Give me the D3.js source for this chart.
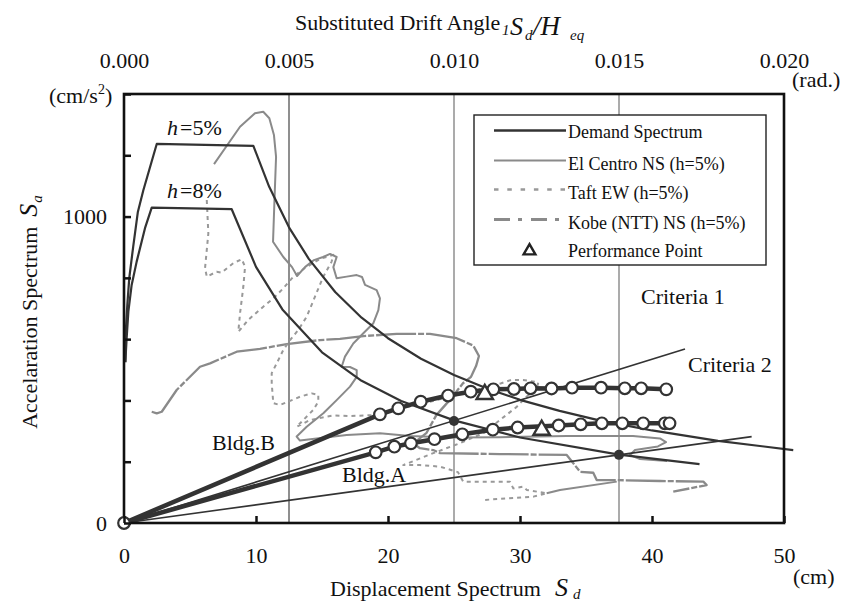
<!DOCTYPE html>
<html><head><meta charset="utf-8">
<script src="https://cdn.jsdelivr.net/npm/d3@7"></script>
<style>
body{margin:0;background:#fff}
svg text{font-family:'Liberation Serif','Times New Roman',serif;fill:#111}
</style></head><body>
<svg id="c" width="846" height="601"></svg>
<script>
// ---------- data (Sd in cm, Sa in cm/s^2) ----------
const xTicks = [0, 10, 20, 30, 40, 50];
const yTicks = [0, 200, 400, 600, 800, 1000, 1200, 1400];
const yTickLabels = [0, 1000];
const topTicks = [0.000, 0.005, 0.010, 0.015, 0.020];
const driftGrid = [0.005, 0.010, 0.015];

const demand5Sd = [0.1,0.15,0.25,0.4,0.7,1.05,1.46,2.48,9.8,11,12.5,14,16,18,20,22.5,25,27.5,30,33,36,40,45,50.7];
const demand5Sa = [525,635,711,800,903,1015,1085,1237,1231,1097,965,862,754,670,603,536,483,439,402,366,335,302,268,238];
const demand8Sd = [0.1,0.2,0.33,0.58,0.96,1.59,2.1,8.16,10,12,15,18,21,25,30,37.5,43.6];
const demand8Sa = [525,603,690,777,853,962,1029,1024,836,697,557,464,398,335,279,223,192];

const elCentroSd = [6.82,8.79,9.92,10.55,11.01,11.36,11.52,11.40,11.29,12.07,12.73,13.11,13.71,14.39,15.08,15.61,16.11,15.86,16.11,16.87,17.63,18.03,18.26,19.14,19.39,19.27,18.89,18.13,17.37,16.74,16.49,17.12,17.63,17.63,17.12,16.11,15.10,13.84,13.08,13.33,14.60,16.87,19.39,21.67,24.70,28.48,33.56,38.56,40.61,41.06,40.45,38.71,38.33,39.09,41.14,null,32.02,33.03,37.33];
const elCentroSa = [1171,1293,1337,1342,1321,1266,1195,1054,918,868,835,806,835,858,868,878,868,835,799,804,809,803,777,760,733,695,652,619,586,543,510,509,499,477,445,401,358,314,282,269,276,287,293,284,279,280,284,284,276,264,250,238,222,209,202,null,97,108,135];

const taftSd = [6.27,6.39,6.14,6.27,7.02,7.40,8.28,8.92,9.17,9.04,8.79,8.66,9.42,10.55,11.31,12.07,12.83,13.71,14.85,15.86,15.73,15.10,14.47,13.84,13.20,12.58,12.07,11.57,11.19,11.19,11.31,11.82,12.45,13.33,14.22,14.72,14.72,14.34,13.58,13.08,14.09,15.86,17.12,18.86,22.42,26.21,28.58,29.34,30.23,31.39,31.23,30.48,29.75,28.48,27.22,25.30,23.43,21.16,22.42,23.94,25.30,25.70,27.73,29.24,29.49,30.25,30.51,32.02,31.01,27.22];
const taftSa = [1054,945,832,804,820,817,848,861,836,771,684,624,663,706,733,766,804,832,862,875,853,804,739,673,630,597,565,521,489,456,391,385,396,412,423,418,396,369,336,314,336,351,349,352,388,428,456,467,467,459,434,412,379,336,293,258,228,189,189,184,166,135,135,135,113,119,108,97,86,75];

const kobeSd = [2.10,2.48,2.86,3.99,5.76,6.52,8.54,10.30,12.33,14.85,16.36,18.13,20.66,23.18,25.20,26.46,26.89,26.67,26.29,25.68,24.67,23.66,22.90,21.92,22.42,23.43,23.94,28.48,33.54,34.04,34.55,35.55,35.81,37.33,40.61,43.89,44.14,41.61];
const kobeSa = [363,358,363,434,510,521,559,568,584,597,601,610,617,617,603,579,545,512,477,456,401,352,293,260,244,238,228,225,222,195,167,164,140,140,137,135,124,102];

const criteria1Sd = [0, 47.55], criteria1Sa = [0, 282];
const criteria2Sd = [0, 42.5],  criteria2Sa = [0, 568];
const crossSd = [25, 37.5], crossSa = [333, 222.4];

const bldgBSd = [19.39,20.78,22.48,24.55,26.27,27.98,29.54,30.80,32.39,33.94,36.14,37.94,39.18,41.08];
const bldgBSa = [354.7,374.3,395.9,416,428.5,436.3,437.3,439.6,439,441.5,441.5,439.6,439.6,436.3];
const bldgASd = [19.07,20.48,21.74,23.52,25.63,27.94,29.82,32.93,34.60,36.20,37.75,39.33,40.97,41.33];
const bldgASa = [230.7,249,260,273.5,289.5,304.5,311.6,318.2,322.1,325.4,325.4,325.4,325.4,325.4];
const perfSd = [27.33, 31.64], perfSa = [420, 303.5];

const legendLabels = ["Demand Spectrum","El Centro NS (h=5%)","Taft EW (h=5%)","Kobe (NTT) NS (h=5%)","Performance Point"];

// ---------- drawing ----------
const svg = d3.select('#c');
const x = d3.scaleLinear().domain([0, 50]).range([124, 784]);
const y = d3.scaleLinear().domain([0, 1400]).range([523, 94]);
const xTop = d3.scaleLinear().domain([0, 0.02]).range([124, 784]);
const zip = (a, b) => a.map((v, i) => [v, b[i]]);
const line = d3.line().defined(d => d[0] != null && d[1] != null).x(d => x(d[0])).y(d => y(d[1]));

const DARK = '#333', GRAY = '#8a8a8a';

// drift-angle gridlines
svg.append('g').selectAll('line').data(driftGrid).join('line')
  .attr('x1', d => xTop(d)).attr('x2', d => xTop(d)).attr('y1', 94).attr('y2', 523)
  .attr('stroke', (d, i) => i === 0 ? '#333' : '#666').attr('stroke-width', 1.1);

function path(sd, sa, stroke, w, dash) {
  svg.append('path').datum(zip(sd, sa)).attr('d', line).attr('fill', 'none')
    .attr('stroke', stroke).attr('stroke-width', w).attr('stroke-dasharray', dash || null)
    .attr('stroke-linejoin', 'round');
}
// earthquake spectra
path(kobeSd, kobeSa, GRAY, 2.3, '40,2,6,2');
path(taftSd, taftSa, '#999', 2, '4,4');
path(elCentroSd, elCentroSa, GRAY, 2);
// demand spectra
path(demand5Sd, demand5Sa, DARK, 2.2);
path(demand8Sd, demand8Sa, DARK, 2.2);
// criteria
path(criteria1Sd, criteria1Sa, DARK, 1.6);
path(criteria2Sd, criteria2Sa, DARK, 1.6);

// capacity curves
function bldg(sd, sa) {
  const pts = [[0, 0]].concat(zip(sd, sa));
  svg.append('path').datum(pts).attr('d', line).attr('fill', 'none')
    .attr('stroke', DARK).attr('stroke-width', 4.5).attr('stroke-linejoin', 'round');
  svg.append('g').selectAll('circle').data(zip(sd, sa)).join('circle')
    .attr('cx', d => x(d[0])).attr('cy', d => y(d[1])).attr('r', 5.8)
    .attr('fill', '#fff').attr('stroke', DARK).attr('stroke-width', 2.2);
}
bldg(bldgBSd, bldgBSa);
bldg(bldgASd, bldgASa);

// intersection dots
svg.append('g').selectAll('circle').data(zip(crossSd, crossSa)).join('circle')
  .attr('cx', d => x(d[0])).attr('cy', d => y(d[1])).attr('r', 5).attr('fill', DARK);

// performance points
const tri = d3.symbol().type(d3.symbolTriangle).size(115);
svg.append('g').selectAll('path').data(zip(perfSd, perfSa)).join('path')
  .attr('d', tri).attr('transform', d => `translate(${x(d[0])},${y(d[1])})`)
  .attr('fill', '#fff').attr('stroke', DARK).attr('stroke-width', 2.4);

// frame
svg.append('rect').attr('x', 124).attr('y', 94).attr('width', 660).attr('height', 429)
  .attr('fill', 'none').attr('stroke', '#111').attr('stroke-width', 2.6);

// origin circle
svg.append('circle').attr('cx', x(0)).attr('cy', y(0)).attr('r', 5.8)
  .attr('fill', '#fff').attr('stroke', DARK).attr('stroke-width', 2.2);

// axes
const gx = svg.append('g').attr('transform', 'translate(0,523)')
  .call(d3.axisBottom(x).tickValues(xTicks).tickSizeInner(-7).tickSizeOuter(0).tickFormat(d3.format('d')));
gx.select('.domain').remove();
gx.selectAll('.tick line').attr('stroke', '#111').attr('stroke-width', 2.5);
gx.selectAll('.tick text').attr('y', 40).attr('dy', 0).attr('font-size', 22);

const gy = svg.append('g').attr('transform', 'translate(124,0)')
  .call(d3.axisLeft(y).tickValues(yTicks).tickSizeInner(-7).tickSizeOuter(0)
    .tickFormat(d => yTickLabels.includes(d) ? String(d) : ''));
gy.select('.domain').remove();
gy.selectAll('.tick line').attr('stroke', '#111').attr('stroke-width', 2.5);
gy.selectAll('.tick text').attr('x', -17).attr('font-size', 22);

const gt = svg.append('g').attr('transform', 'translate(0,94)')
  .call(d3.axisTop(xTop).tickValues(topTicks).tickSize(0).tickFormat(d3.format('.3f')));
gt.select('.domain').remove();
gt.selectAll('.tick text').attr('y', -26).attr('dy', 0).attr('font-size', 22);

// legend
const lg = svg.append('g');
lg.append('rect').attr('x', 474).attr('y', 115).attr('width', 292).attr('height', 150)
  .attr('fill', '#fff').attr('stroke', '#222').attr('stroke-width', 1.4);
const rowY = [130.5, 160.5, 189.5, 219.5, 250];
const textY = [138.3, 169.5, 199, 228.5, 256.7];
const legStyle = [
  {s: DARK, w: 2.4, d: null}, {s: GRAY, w: 2.2, d: null},
  {s: '#999', w: 2.6, d: '4.5,8.8'}, {s: GRAY, w: 3.2, d: '16,8,4,9'}];
legStyle.forEach((st, i) => {
  lg.append('line').attr('x1', 494).attr('x2', 566).attr('y1', rowY[i]).attr('y2', rowY[i])
    .attr('stroke', st.s).attr('stroke-width', st.w).attr('stroke-dasharray', st.d);
});
lg.append('path').attr('d', d3.symbol().type(d3.symbolTriangle).size(60))
  .attr('transform', `translate(529.5,${rowY[4] + 1})`).attr('fill', '#fff')
  .attr('stroke', '#222').attr('stroke-width', 2.4);
lg.selectAll('text.lt').data(legendLabels).join('text').attr('class', 'lt')
  .attr('x', 568).attr('y', (d, i) => textY[i]).attr('font-size', 18).text(d => d);

// annotations
function label(xp, yp, str, size) {
  return svg.append('text').attr('x', xp).attr('y', yp).attr('font-size', size || 22).text(str);
}
const h5 = svg.append('text').attr('x', 167).attr('y', 135).attr('font-size', 22);
h5.append('tspan').attr('font-style', 'italic').text('h');
h5.append('tspan').attr('dx', 2).text('=5%');
const h8 = svg.append('text').attr('x', 167).attr('y', 198).attr('font-size', 22);
h8.append('tspan').attr('font-style', 'italic').text('h');
h8.append('tspan').attr('dx', 2).text('=8%');
label(212, 450, 'Bldg.B');
label(342, 482, 'Bldg.A');
label(641, 304, 'Criteria 1');
label(688, 372, 'Criteria 2');

// units
const cu = svg.append('text').attr('x', 49).attr('y', 103).attr('font-size', 22);
cu.append('tspan').text('(cm/s');
cu.append('tspan').attr('font-size', 14).attr('dy', -9).text('2');
cu.append('tspan').attr('dy', 9).text(')');
label(792, 87, '(rad.)');
label(793, 584, '(cm)');

// top title
const tt = svg.append('text').attr('y', 30).attr('font-size', 22);
tt.append('tspan').attr('x', 295).text('Substituted Drift Angle');
tt.append('tspan').attr('x', 502).attr('y', 35).attr('font-size', 15).attr('font-style', 'italic').text('1');
tt.append('tspan').attr('x', 510).attr('y', 35).attr('font-size', 26).attr('font-style', 'italic').text('S');
tt.append('tspan').attr('x', 525).attr('y', 40).attr('font-size', 15).attr('font-style', 'italic').text('d');
tt.append('tspan').attr('x', 533).attr('y', 35).attr('font-size', 27).attr('font-style', 'italic').text('/H');
tt.append('tspan').attr('x', 570).attr('y', 40).attr('font-size', 15).attr('font-style', 'italic').text('eq');

// x title
const xt = svg.append('text').attr('y', 596).attr('font-size', 22);
xt.append('tspan').attr('x', 330).text('Displacement Spectrum');
xt.append('tspan').attr('x', 555).attr('font-size', 26).attr('font-style', 'italic').text('S');
xt.append('tspan').attr('x', 573).attr('y', 599).attr('font-size', 15).attr('font-style', 'italic').text('d');

// y title
const yt = svg.append('text').attr('transform', 'translate(37,312) rotate(-90)')
  .attr('text-anchor', 'middle').attr('font-size', 22);
yt.append('tspan').text('Accelaration Spectrum');
yt.append('tspan').attr('dx', 10).attr('font-size', 26).attr('font-style', 'italic').text('S');
yt.append('tspan').attr('dx', 1).attr('dy', 5).attr('font-size', 15).attr('font-style', 'italic').text('a');
</script>
</body></html>
